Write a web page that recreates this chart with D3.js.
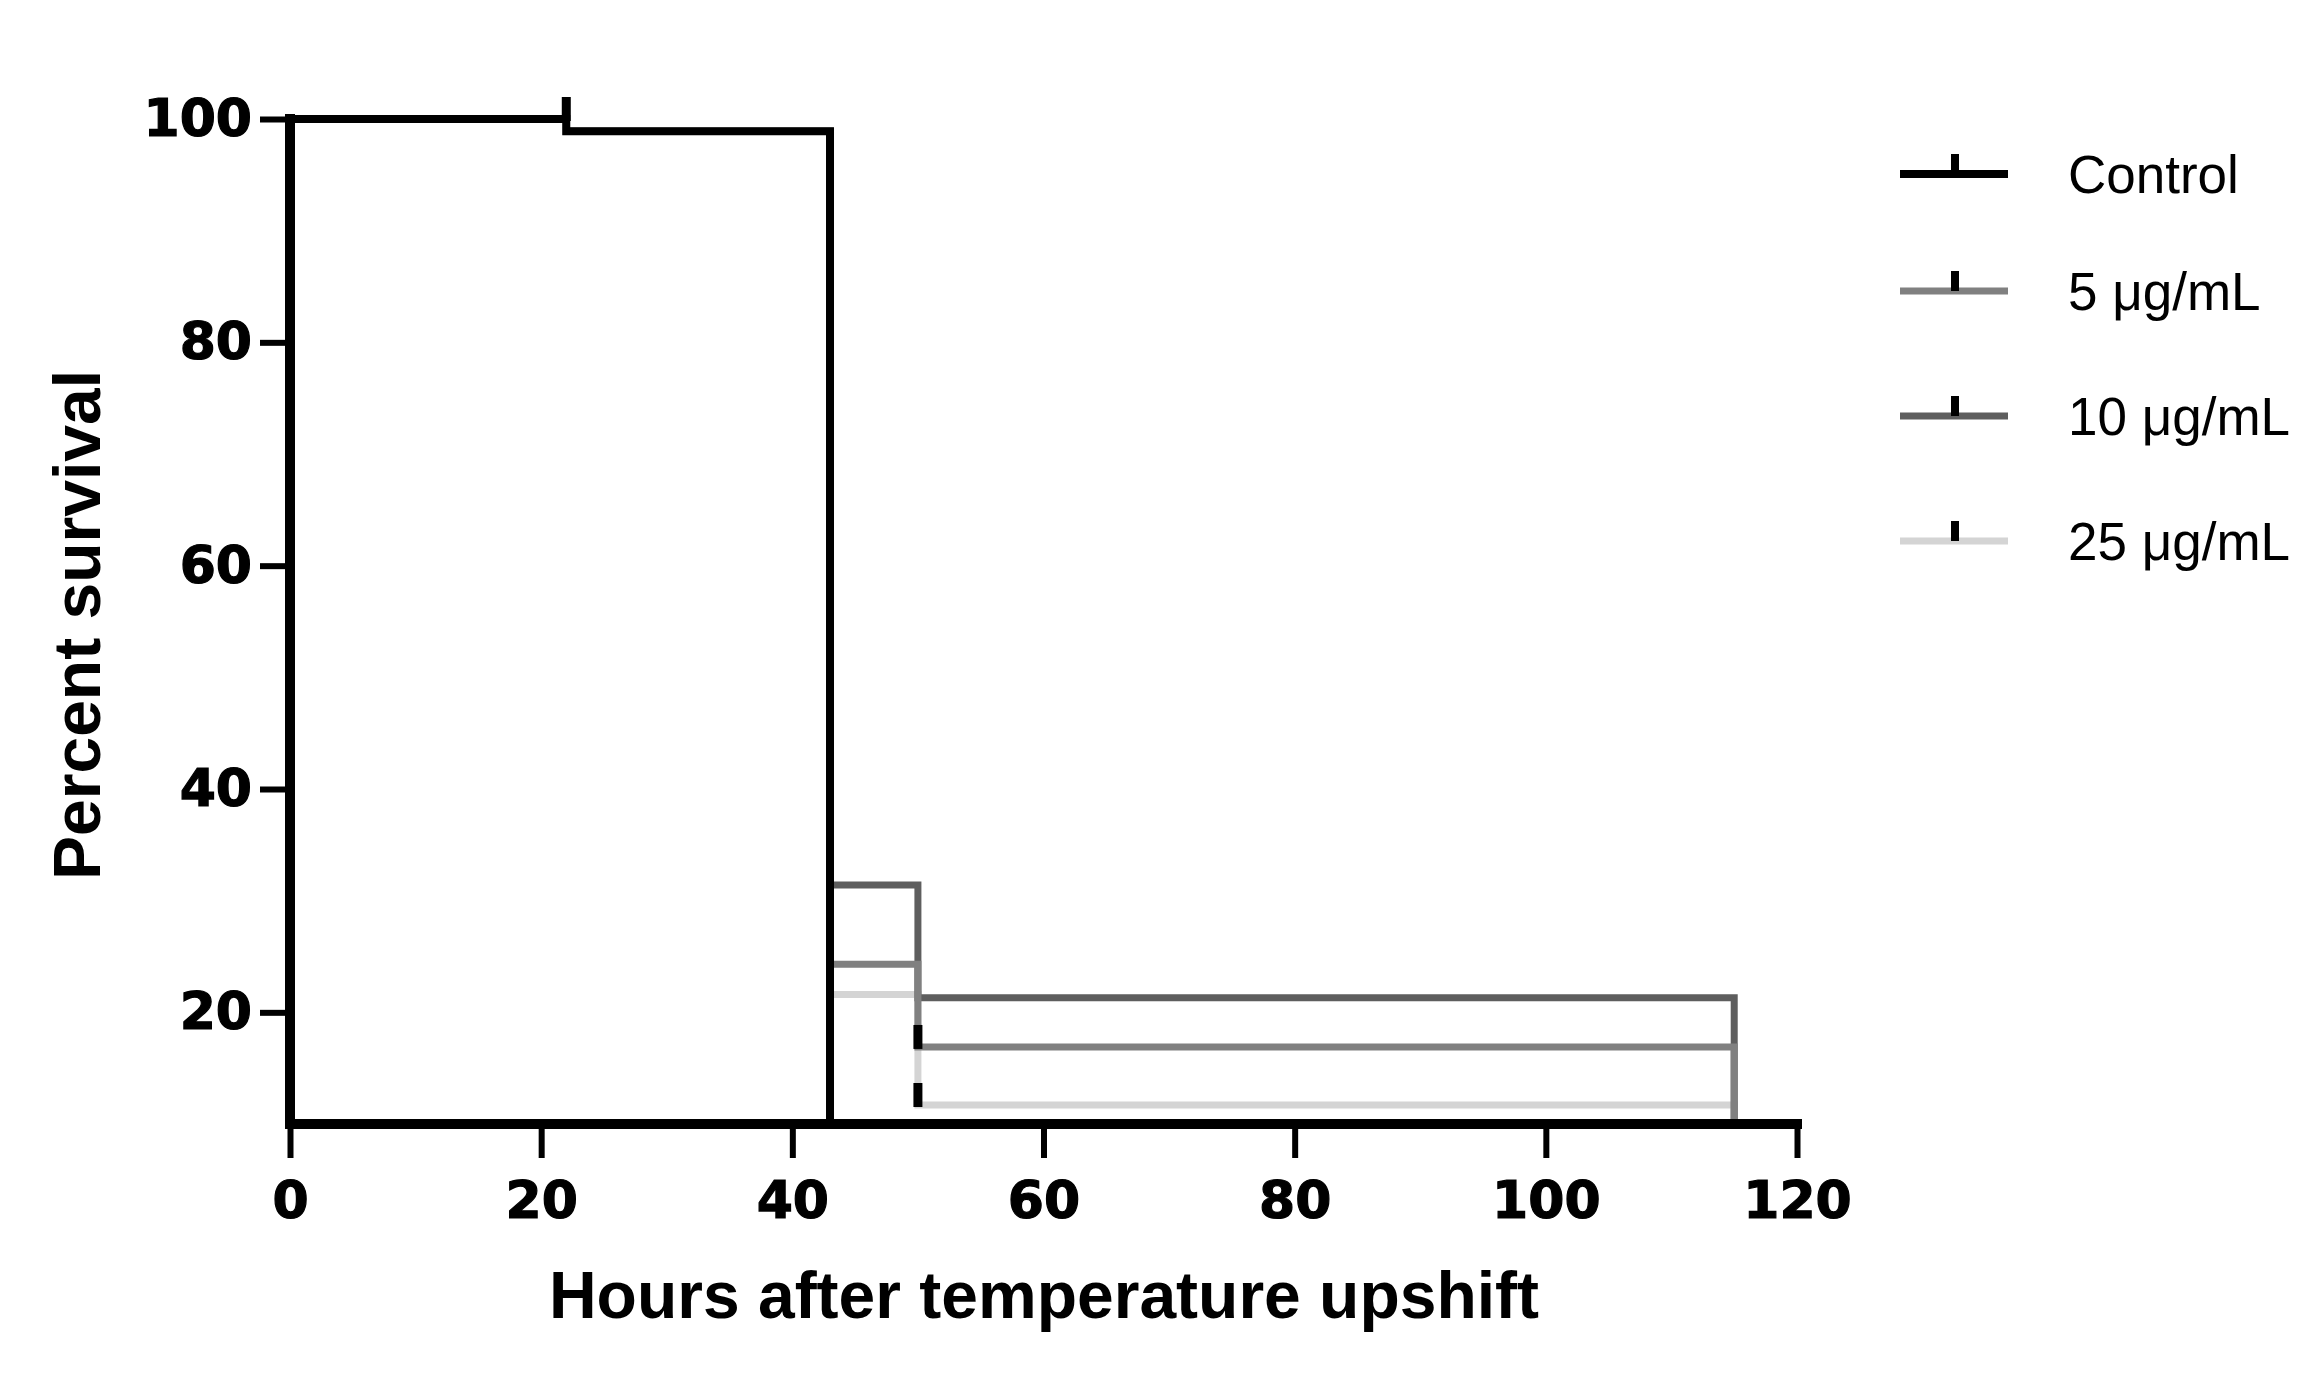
<!DOCTYPE html>
<html>
<head>
<meta charset="utf-8">
<script src="https://cdn.jsdelivr.net/npm/d3@7"></script>
<style>
  html, body { margin: 0; padding: 0; background: #fff; }
  svg { display: block; }
</style>
</head>
<body>
<svg id="chart" width="2313" height="1374"></svg>
<script>
// ---------------- DATA ----------------
const seriesNames = ["Control", "5 \u03bcg/mL", "10 \u03bcg/mL", "25 \u03bcg/mL"];
const seriesColors = ["#000000", "#808080", "#5e5e5e", "#d4d4d4"];

// Kaplan-Meier step data (time in hours, percent survival after the step)
const controlTimes = [0, 22, 43];
const controlSurv  = [100, 98.9, 0];
const dose5Times   = [0, 22, 43, 50, 115];
const dose5Surv    = [100, 98.9, 24.3, 16.9, 0];
const dose10Times  = [0, 22, 43, 50, 115];
const dose10Surv   = [100, 98.9, 31.4, 21.3, 0];
const dose25Times  = [0, 22, 43, 50, 115];
const dose25Surv   = [100, 98.9, 21.6, 11.7, 0];

// censor marks (time, percent)
const controlCensorT = [22];
const controlCensorV = [100];
const dose5CensorT   = [50];
const dose5CensorV   = [16.9];
const dose10CensorT  = [];
const dose10CensorV  = [];
const dose25CensorT  = [50];
const dose25CensorV  = [11.7];

const xTicks = [0, 20, 40, 60, 80, 100, 120];
const yTicks = [20, 40, 60, 80, 100];
const xDomain = [0, 120];
const yDomain = [10, 100];
const xTitle = "Hours after temperature upshift";
const yTitle = "Percent survival";

// ---------------- LAYOUT ----------------
const svg = d3.select("#chart");
svg.append("rect").attr("width", 2313).attr("height", 1374).attr("fill", "#fff");

const x = d3.scaleLinear().domain(xDomain).range([290, 1797]);
const y = d3.scaleLinear().domain(yDomain).range([1124, 119]);

const tickFont = "'DejaVu Sans', sans-serif";
const titleFont = "'Liberation Sans', Arial, sans-serif";

// clip for the plot area
svg.append("clipPath").attr("id", "plotclip")
  .append("rect")
  .attr("x", x(0)).attr("y", y(100) - 40)
  .attr("width", x(120) - x(0) + 10)
  .attr("height", y(10) - y(100) + 40);

const series = [
  {t: dose25Times, s: dose25Surv, ct: dose25CensorT, cv: dose25CensorV, i: 3},
  {t: dose10Times, s: dose10Surv, ct: dose10CensorT, cv: dose10CensorV, i: 2},
  {t: dose5Times,  s: dose5Surv,  ct: dose5CensorT,  cv: dose5CensorV,  i: 1},
  {t: controlTimes, s: controlSurv, ct: controlCensorT, cv: controlCensorV, i: 0}
];

const line = d3.line()
  .x(d => x(d[0])).y(d => y(d[1]))
  .curve(d3.curveStepAfter);

const plot = svg.append("g").attr("clip-path", "url(#plotclip)");

series.forEach(sr => {
  const pts = sr.t.map((tt, k) => [tt, sr.s[k]]);
  plot.append("path")
    .attr("d", line(pts))
    .attr("fill", "none")
    .attr("stroke", seriesColors[sr.i])
    .attr("stroke-width", sr.i === 0 ? 8 : 7)
    .attr("stroke-linejoin", "miter")
    .attr("stroke-linecap", "square");
});

// censor ticks
series.forEach(sr => {
  sr.ct.forEach((tt, k) => {
    svg.append("line")
      .attr("x1", x(tt)).attr("x2", x(tt))
      .attr("y1", y(sr.cv[k]) + 2).attr("y2", y(sr.cv[k]) - 22)
      .attr("stroke", "#000").attr("stroke-width", 9);
  });
});

// ---------------- AXES ----------------
const yAxis = d3.axisLeft(y).tickValues(yTicks).tickSize(30).tickSizeOuter(0).tickPadding(8)
  .tickFormat(d3.format("d"));
const gy = svg.append("g").attr("transform", `translate(${x(0)},0)`).call(yAxis);
gy.select(".domain").remove();
gy.selectAll(".tick line").attr("stroke", "#000").attr("stroke-width", 6);
gy.selectAll(".tick text")
  .attr("font-family", tickFont).attr("font-weight", "bold")
  .attr("font-size", 52).attr("fill", "#000")
  .attr("stroke", "#000").attr("stroke-width", 1.2);

const xAxis = d3.axisBottom(x).tickValues(xTicks).tickSize(34).tickSizeOuter(0).tickPadding(23)
  .tickFormat(d3.format("d"));
const gx = svg.append("g").attr("transform", `translate(0,${y(10)})`).call(xAxis);
gx.select(".domain").remove();
gx.selectAll(".tick line").attr("stroke", "#000").attr("stroke-width", 6);
gx.selectAll(".tick text")
  .attr("font-family", tickFont).attr("font-weight", "bold")
  .attr("font-size", 52).attr("fill", "#000")
  .attr("stroke", "#000").attr("stroke-width", 1.2);

// thick axis lines
svg.append("line")
  .attr("x1", x(0)).attr("x2", x(0))
  .attr("y1", y(100) - 5).attr("y2", y(10) + 5)
  .attr("stroke", "#000").attr("stroke-width", 10);
svg.append("line")
  .attr("x1", x(0) - 5).attr("x2", x(120) + 5)
  .attr("y1", y(10)).attr("y2", y(10))
  .attr("stroke", "#000").attr("stroke-width", 10);

// titles
svg.append("text")
  .attr("x", 1044).attr("y", 1318)
  .attr("text-anchor", "middle")
  .attr("font-family", titleFont).attr("font-weight", "bold")
  .attr("font-size", 66).attr("fill", "#000")
  .text(xTitle);

svg.append("text")
  .attr("transform", "translate(100,625) rotate(-90)")
  .attr("text-anchor", "middle")
  .attr("font-family", titleFont).attr("font-weight", "bold")
  .attr("font-size", 66).attr("fill", "#000")
  .text(yTitle);

// ---------------- LEGEND ----------------
const legendY = [174, 291, 416, 541];
const legend = svg.append("g");
seriesNames.forEach((name, i) => {
  const ly = legendY[i];
  legend.append("line")
    .attr("x1", 1900).attr("x2", 2008).attr("y1", ly).attr("y2", ly)
    .attr("stroke", seriesColors[i]).attr("stroke-width", i === 0 ? 8 : 7);
  legend.append("line")
    .attr("x1", 1955).attr("x2", 1955).attr("y1", ly).attr("y2", ly - 20)
    .attr("stroke", "#000").attr("stroke-width", 8);
  legend.append("text")
    .attr("x", 2068).attr("y", ly + 19)
    .attr("font-family", titleFont)
    .attr("font-size", 53).attr("fill", "#000")
    .text(name);
});
</script>
</body>
</html>
